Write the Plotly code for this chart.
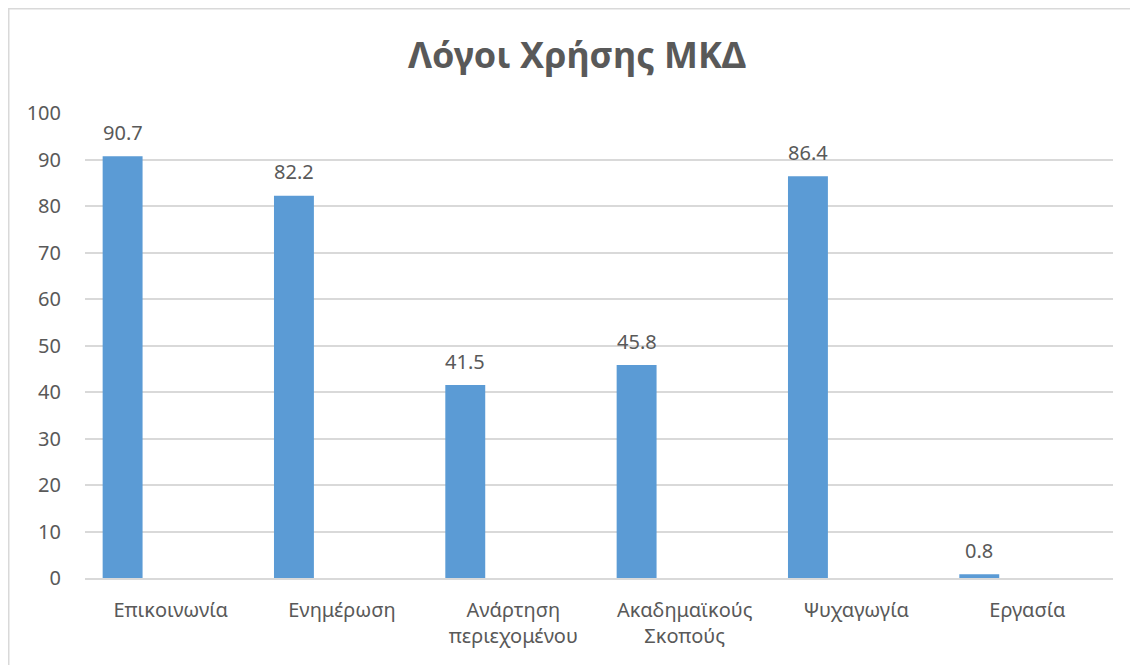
import plotly.graph_objects as go

categories = ["Επικοινωνία", "Ενημέρωση", "Ανάρτηση<br>περιεχομένου", "Ακαδημαϊκούς<br>Σκοπούς", "Ψυχαγωγία", "Εργασία"]
values = [90.7, 82.2, 41.5, 45.8, 86.4, 0.8]
value_labels = ["90.7", "82.2", "41.5", "45.8", "86.4", "0.8"]
y_ticks = [0, 10, 20, 30, 40, 50, 60, 70, 80, 90, 100]

FONT = "Noto Sans"
GRAY = "#595959"
BAR_W = 0.233
BAR_OFF = -0.397

fig = go.Figure()
fig.add_trace(go.Bar(
    x=categories,
    y=values,
    width=BAR_W,
    offset=BAR_OFF,
    marker=dict(color="#5b9bd5", line=dict(width=0)),
    hoverinfo="x+y",
))

annotations = []
for i, (v, lab) in enumerate(zip(values, value_labels)):
    annotations.append(dict(
        x=i + BAR_OFF + BAR_W / 2, y=v, xref="x", yref="y",
        text=lab, showarrow=False,
        xanchor="center", yanchor="middle", yshift=24,
        font=dict(family=FONT, size=20, color=GRAY),
    ))

# page body has an 8px margin: figure origin sits at screen (8, 8)
W, H = 1138, 665
ml, mt = 77, 105
mr = W - 1105
mb = H - 570
pw = W - ml - mr
ph = H - mt - mb

def px_x(p):
    return (p - ml) / pw

def px_y(p):
    return (H - mb - p) / ph

fig.update_layout(
    width=W, height=H,
    margin=dict(l=ml, r=mr, t=mt, b=mb, pad=0),
    paper_bgcolor="white",
    plot_bgcolor="white",
    showlegend=False,
    annotations=annotations,
    title=dict(
        text="<b>Λόγοι Χρήσης ΜΚΔ</b>",
        x=0.5, xanchor="center",
        y=1 - 47 / H, yanchor="middle",
        font=dict(family=FONT, size=36, color=GRAY),
    ),
    font=dict(family=FONT, color=GRAY),
    xaxis=dict(
        range=[-0.5, 5.5],
        showgrid=False,
        showline=True, linecolor="#d9d9d9", linewidth=1.5,
        ticks="",
        ticklabelstandoff=13,
        tickfont=dict(family=FONT, size=20, color=GRAY),
        fixedrange=True,
    ),
    yaxis=dict(
        range=[0, 100],
        tickvals=y_ticks,
        showgrid=True, gridcolor="#d9d9d9", gridwidth=1.5,
        zeroline=False,
        showline=False,
        ticks="",
        ticklabelstandoff=23,
        tickfont=dict(family=FONT, size=20, color=GRAY),
        fixedrange=True,
    ),
    shapes=[dict(
        type="rect", xref="paper", yref="paper",
        x0=px_x(0.75), x1=px_x(1160), y0=px_y(680), y1=px_y(0.75),
        line=dict(color="#d9d9d9", width=1.5),
        fillcolor="rgba(0,0,0,0)", layer="below",
    )],
)

fig.write_html("out.html")
